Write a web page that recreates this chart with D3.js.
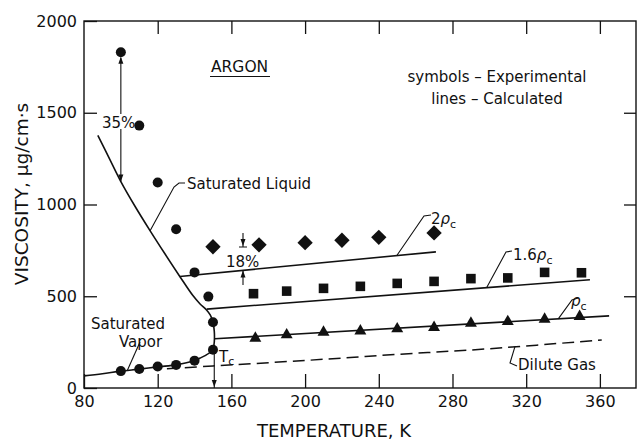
<!DOCTYPE html>
<html>
<head>
<meta charset="utf-8">
<script src="https://cdn.jsdelivr.net/npm/d3@7"></script>
<style>
  body { margin: 0; background: #fff; }
  svg { display: block; font-family: "DejaVu Sans", sans-serif; }
</style>
</head>
<body>
<svg id="chart" width="637" height="440"></svg>
<script>
// axis ticks
const xTicks = [80, 120, 160, 200, 240, 280, 320, 360];
const yTicks = [0, 500, 1000, 1500, 2000];

// saturated liquid + vapor curve (calculated), T in K, viscosity in ug/cm.s
const satCurveT = [87.5, 94, 100, 108, 116, 124, 132, 139, 143, 146.5, 148.5, 150, 150.7, 150.8, 150.6, 150, 148.5, 146, 143, 140, 135, 130, 120, 110, 100, 90, 80];
const satCurveV = [1377, 1246, 1125, 985, 855, 730, 608, 505, 458, 425, 398, 360, 310, 268, 240, 215, 195, 178, 163, 150, 136, 126, 115, 103, 92, 78, 66];

// saturated experimental points (circles)
const satExpT = [100, 110, 120, 130, 140, 147.5, 150, 150, 140, 130, 120, 110, 100];
const satExpV = [1830, 1430, 1120, 865, 630, 498, 358, 208, 149, 126, 117, 104, 92];

// 2 rho_c : diamonds + line
const rho2T = [150, 175, 200, 220, 240, 270];
const rho2V = [770, 780, 792, 805, 821, 845];
const rho2LineT = [132, 271];
const rho2LineV = [608, 742];

// 1.6 rho_c : squares + line
const rho16T = [172, 190, 210, 230, 250, 270, 290, 310, 330, 350];
const rho16V = [514, 528, 543, 554, 570, 581, 596, 600, 630, 628];
const rho16LineT = [146.6, 354.6];
const rho16LineV = [430, 590];

// rho_c : triangles + line
const rho1T = [173, 190, 210, 230, 250, 270, 290, 310, 330, 349];
const rho1V = [271, 290, 304, 311, 322, 330, 353, 362, 375, 390];
const rho1LineT = [151, 365];
const rho1LineV = [268, 393];

// dilute gas (dashed)
const diluteT = [125, 150, 200, 250, 300, 361];
const diluteV = [105, 120, 150, 183, 214, 262];

const svg = d3.select("#chart");
const mLeft = 84, mRight = 636, mTop = 21, mBottom = 388;

const x = d3.scaleLinear().domain([80, 379.6]).range([mLeft, mRight]);
const y = d3.scaleLinear().domain([0, 2000]).range([mBottom, mTop]);

const zip = (a, b) => a.map((d, i) => [d, b[i]]);
const line = d3.line().x(d => x(d[0])).y(d => y(d[1]));

// frame
svg.append("rect")
  .attr("x", mLeft).attr("y", mTop)
  .attr("width", mRight - mLeft).attr("height", mBottom - mTop)
  .attr("fill", "none").attr("stroke", "#111").attr("stroke-width", 1.4);

// axes with inward ticks
const gx = svg.append("g").attr("transform", `translate(0,${mBottom})`)
  .call(d3.axisBottom(x).tickValues(xTicks).tickSize(-14).tickPadding(8));
const gxt = svg.append("g").attr("transform", `translate(0,${mTop})`)
  .call(d3.axisTop(x).tickValues(xTicks.slice(1)).tickSize(-13).tickFormat(""));
const gy = svg.append("g").attr("transform", `translate(${mLeft},0)`)
  .call(d3.axisLeft(y).tickValues(yTicks).tickSize(-13).tickPadding(7).tickFormat(d3.format("d")));
const gyr = svg.append("g").attr("transform", `translate(${mRight},0)`)
  .call(d3.axisRight(y).tickValues(yTicks.slice(1, 4)).tickSize(-12).tickFormat(""));

[gx, gxt, gy, gyr].forEach(g => {
  g.select(".domain").remove();
  g.selectAll("line").attr("stroke", "#111").attr("stroke-width", 1.3);
  g.selectAll("text").attr("fill", "#111").style("font-size", "16px")
    .style("font-family", "DejaVu Sans, sans-serif");
});

// axis titles
svg.append("text").attr("x", 334).attr("y", 437).attr("text-anchor", "middle")
  .style("font-size", "18px").attr("fill", "#111").text("TEMPERATURE, K");
svg.append("text").attr("transform", "translate(28,194) rotate(-90)")
  .attr("text-anchor", "middle").style("font-size", "18.5px").attr("fill", "#111")
  .text("VISCOSITY, μg/cm·s");

// calculated lines
const stroke = "#111";
svg.append("path").datum(zip(satCurveT, satCurveV))
  .attr("d", line.curve(d3.curveCatmullRom.alpha(0.5)))
  .attr("fill", "none").attr("stroke", stroke).attr("stroke-width", 1.6);
line.curve(d3.curveLinear);
[[rho2LineT, rho2LineV], [rho16LineT, rho16LineV], [rho1LineT, rho1LineV]].forEach(([t, v]) => {
  svg.append("path").datum(zip(t, v)).attr("d", line)
    .attr("fill", "none").attr("stroke", stroke).attr("stroke-width", 1.6);
});
svg.append("path").datum(zip(diluteT, diluteV))
  .attr("d", line.curve(d3.curveCatmullRom.alpha(0.5)))
  .attr("fill", "none").attr("stroke", stroke).attr("stroke-width", 1.5)
  .attr("stroke-dasharray", "12,6");

// experimental symbols
svg.append("g").selectAll("circle").data(zip(satExpT, satExpV)).join("circle")
  .attr("cx", d => x(d[0])).attr("cy", d => y(d[1])).attr("r", 5).attr("fill", "#111");
const sym = (type, size, t, v) => svg.append("g").selectAll("path").data(zip(t, v)).join("path")
  .attr("transform", d => `translate(${x(d[0])},${y(d[1])})`)
  .attr("d", d3.symbol().type(type).size(size)).attr("fill", "#111");
sym(d3.symbolDiamond2, 150, rho2T, rho2V);
sym(d3.symbolSquare, 92, rho16T, rho16V);
sym(d3.symbolTriangle, 62, rho1T, rho1V);

// annotations: leaders and arrows
const path = (d) => svg.append("path").attr("d", d)
  .attr("stroke", "#111").attr("stroke-width", 1.1).attr("fill", "none");
const head = (px, py, dir) => { // small arrowhead, tip at px,py, dir 1 = down, -1 = up
  svg.append("path").attr("d", `M${px},${py} L${px - 2.5},${py - 7 * dir} L${px + 2.5},${py - 7 * dir} Z`)
    .attr("fill", "#111");
};

path("M210,76.5 L270,76.5"); // ARGON underline

const ax = x(100);
path(`M${ax},${y(1800)} L${ax},${y(1125)}`);
head(ax, y(1800) - 1, -1);
head(ax, y(1125), 1);

path(`M185,183 L179,183 L174,187 L${x(115.8)},${y(855)}`);
path(`M140,342 L${x(103.5)},${y(95)}`);

path(`M243,233 L243,247 M239,247 L247,247`);
head(243, 246, 1);
path(`M243,285 L243,${y(641)}`);
head(243, y(641), -1);

const tcx = x(150.7);
path(`M${tcx},354 L${tcx},${mBottom}`);
head(tcx, mBottom - 1, 1);

path(`M431,215 L424,216 L${x(249.7)},${y(721)}`);
path(`M512,251 L506,252 L${x(298.5)},${y(546.8)}`);
path(`M578,298 L572,300 L${x(337.4)},${y(377)}`);
path(`M517,366 L510,363 L${x(313.9)},${y(225)}`);

// annotation texts (on top)
const ann = svg.append("g").attr("fill", "#111").style("font-size", "15px");
ann.append("text").attr("x", 211).attr("y", 72).style("font-size", "15.5px").text("ARGON");
ann.append("text").attr("x", 497).attr("y", 82).attr("text-anchor", "middle").text("symbols – Experimental");
ann.append("text").attr("x", 497).attr("y", 104).attr("text-anchor", "middle").text("lines – Calculated");

ann.append("rect").attr("x", 101).attr("y", 114).attr("width", 33).attr("height", 15).attr("fill", "#fff");
ann.append("text").attr("x", 102).attr("y", 127.5).text("35%");

ann.append("text").attr("x", 187).attr("y", 189).text("Saturated Liquid");
ann.append("text").attr("x", 91).attr("y", 329).text("Saturated");
ann.append("text").attr("x", 119).attr("y", 347).text("Vapor");
ann.append("text").attr("x", 226).attr("y", 267).text("18%");

const tc = ann.append("text").attr("x", 219).attr("y", 362).style("font-size", "15px");
tc.append("tspan").text("T");
tc.append("tspan").attr("dy", 3).style("font-size", "11px").text("c");

const t2 = ann.append("text").attr("x", 431).attr("y", 224);
t2.append("tspan").text("2");
t2.append("tspan").style("font-style", "italic").text("ρ");
t2.append("tspan").attr("dy", 4).style("font-size", "11px").text("c");

const t16 = ann.append("text").attr("x", 513).attr("y", 260);
t16.append("tspan").text("1.6");
t16.append("tspan").style("font-style", "italic").text("ρ");
t16.append("tspan").attr("dy", 4).style("font-size", "11px").text("c");

const t1 = ann.append("text").attr("x", 571).attr("y", 306);
t1.append("tspan").style("font-style", "italic").text("ρ");
t1.append("tspan").attr("dy", 4).style("font-size", "11px").text("c");

ann.append("text").attr("x", 518).attr("y", 370).text("Dilute Gas");
</script>
</body>
</html>
